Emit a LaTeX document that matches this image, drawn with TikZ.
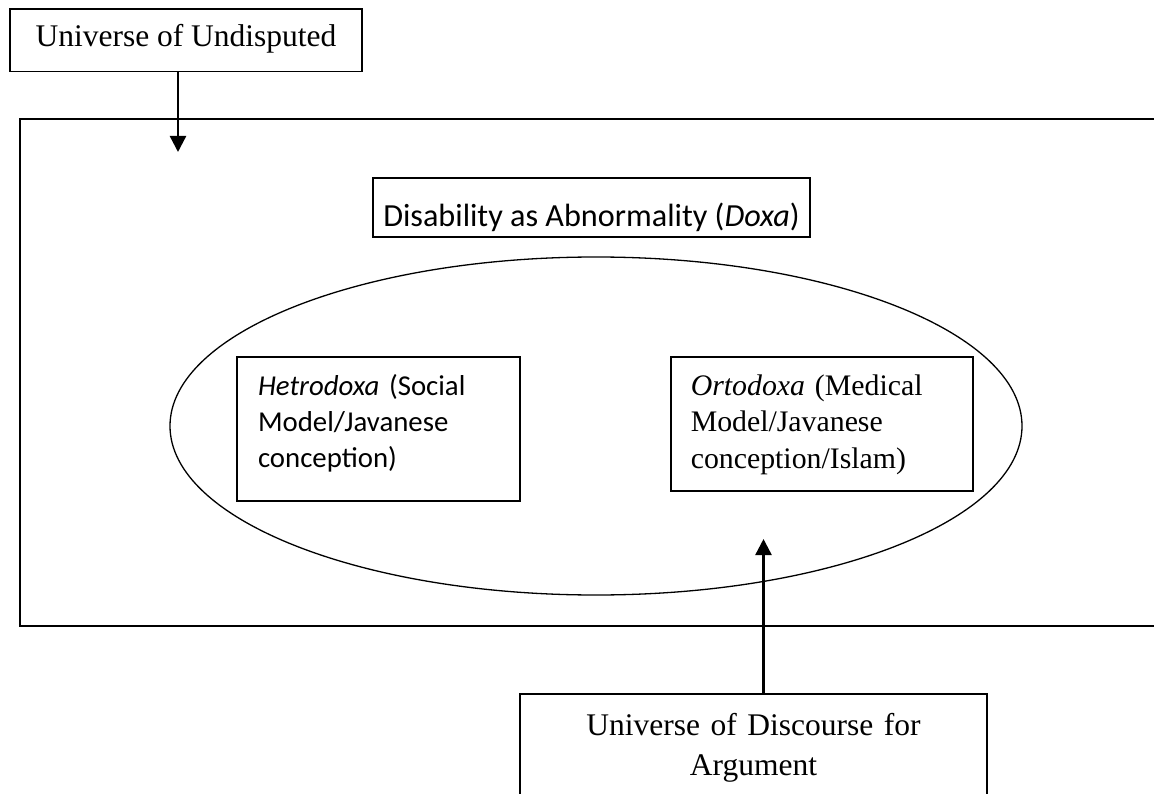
\documentclass[tikz,border=0pt]{standalone}
\usepackage{fontspec}
\setmainfont{Liberation Serif}
\newfontfamily\calibri{Carlito}
\usetikzlibrary{arrows.meta}

\begin{document}
\begin{tikzpicture}[x=1pt,y=-1pt]
% ------------------------------------------------ styles
\tikzset{
  box/.style={draw,line width=1.6pt,inner sep=0pt,anchor=base},
  serif/.style={font=\fontsize{29.8}{36.7}\selectfont},
  sans/.style={font=\calibri\fontsize{28.8}{36}\selectfont},
  link/.style={line width=2.4pt,-{Triangle[length=16pt,width=16pt]}}
}
\useasboundingbox (0,0) rectangle (1154,794);

% ------------------------------------------------ outer field and ellipse
\node[box,anchor=north west,minimum width=1134.5pt,minimum height=507pt] (field) at (19,118) {};
\draw[line width=1.3pt] (596,426) ellipse [x radius=426, y radius=169];

% ------------------------------------------------ boxes
\node[box,font=\fontsize{31.5}{36}\selectfont,minimum width=352pt,text height=37.4pt,text depth=25pt] (undisputed) at (186,46.7) {Universe of Undisputed};

\node[box,font=\calibri\fontsize{32.2}{36}\selectfont,minimum width=437pt,text height=49pt,text depth=10pt] (doxa) at (591.5,227) {Disability as Abnormality (\textit{Doxa})};

\node[box,sans,inner xsep=21pt,text width=241pt,align=left,text height=38pt,text depth=105.7pt] (hetero) at (378.5,395)
  {\textit{Hetrodoxa} (Social\\ Model/Javanese\\ conception)};

\node[box,serif,inner xsep=20pt,text width=262pt,align=left,text height=38pt,text depth=95.7pt] (ortho) at (821.8,395)
  {\textit{Ortodoxa} (Medical\\ Model/Javanese\\ conception/Islam)};

\node[box,font=\fontsize{31.5}{40}\selectfont,text width=467pt,align=center,text height=41pt,text depth=70pt] (discourse) at (753.5,735)
  {Universe of Discourse for\\ Argument};

% ------------------------------------------------ arrows
\coordinate (dropend) at (178,152);
\coordinate (riseend) at (763.5,539);
\draw[link] (undisputed.south -| dropend) -- (dropend);
\draw[link] (discourse.north -| riseend) -- (riseend);

\end{tikzpicture}
\end{document}
